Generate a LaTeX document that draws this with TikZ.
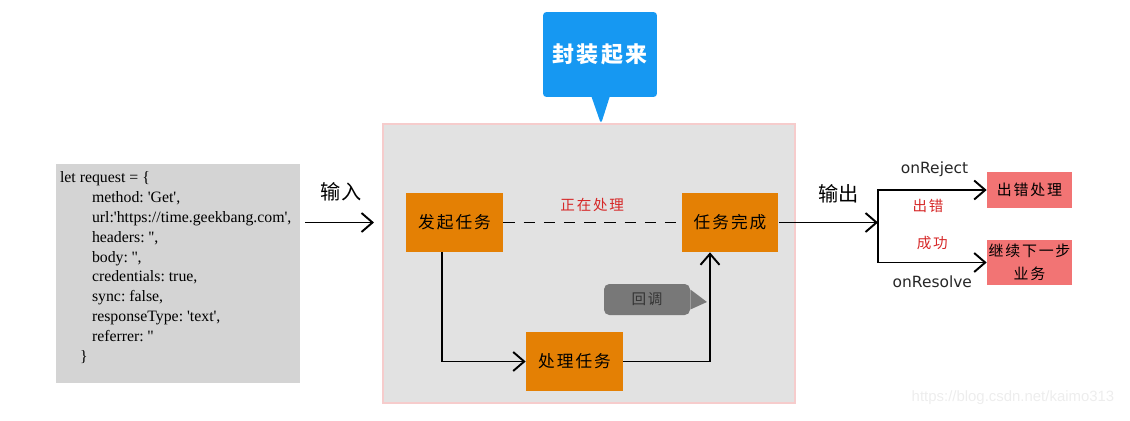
\documentclass[tikz,border=0pt]{standalone}
\usepackage{fontspec}
\newfontfamily\cjk{Noto Sans CJK SC}[LetterSpace=12]
\newfontfamily\cjkplain{Noto Sans CJK SC}
\newfontfamily\reqfont{Liberation Serif}
\newfontfamily\latinsans{DejaVu Sans}
\newfontfamily\markfont{Liberation Sans}
\usetikzlibrary{positioning,arrows.meta,shapes.callouts}
\definecolor{taskorange}{RGB}{228,128,4}
\definecolor{capblue}{RGB}{22,152,242}
\definecolor{errred}{RGB}{242,116,116}
\definecolor{hintred}{RGB}{214,40,40}
\definecolor{framegray}{RGB}{226,226,226}
\definecolor{framepink}{RGB}{246,204,204}
\definecolor{reqgray}{RGB}{212,212,212}
\definecolor{cbgray}{RGB}{120,120,120}

\begin{document}
\begin{tikzpicture}[
      x=0.02cm, y=-0.02cm,
      task/.style={fill=taskorange, minimum width=1.94cm, minimum height=1.18cm,
                   inner sep=0pt, font=\cjk\fontsize{9.5}{12}\selectfont},
      outbox/.style={fill=errred, minimum width=1.7cm, inner sep=0pt, align=center,
                     font=\cjk\fontsize{8.5}{13}\selectfont},
      note/.style={text=hintred, inner sep=1pt, font=\cjk\fontsize{8.3}{10}\selectfont},
      tag/.style={inner sep=1pt, text=black!85, font=\latinsans\fontsize{8.8}{10}\selectfont},
      io/.style={inner sep=1pt, font=\cjkplain\fontsize{11.5}{13}\selectfont},
      arr/.style={-{Straight Barb[length=2.2mm, width=3.8mm]}, line width=1.1pt}
    ]
    \useasboundingbox (0,0) rectangle (1130,420);
    \node[fill=reqgray, minimum width=4.88cm, minimum height=4.38cm] (req) at (178,273.5) {};
    \node[anchor=west, inner sep=0pt, align=left,
          font=\reqfont\fontsize{9}{11.3}\selectfont\frenchspacing]
      (reqcode) at ([shift={(4,-6)}]req.west) {let request = \{\\
        \hspace*{0.64cm}method: 'Get',\\
        \hspace*{0.64cm}url:'https://time.geekbang.com',\\
        \hspace*{0.64cm}headers: '',\\
        \hspace*{0.64cm}body: '',\\
        \hspace*{0.64cm}credentials: true,\\
        \hspace*{0.64cm}sync: false,\\
        \hspace*{0.64cm}responseType: 'text',\\
        \hspace*{0.64cm}referrer: ''\\
        \hspace*{0.4cm}\}};
    \node[draw=framepink, line width=1.2pt, fill=framegray, minimum width=8.24cm,
          minimum height=5.58cm] (frame) at (589,263.5) {};
    \coordinate (wraptip) at (601,124);
    \node[rectangle callout, fill=capblue, rounded corners=2pt, minimum width=2.28cm,
          minimum height=1.7cm, callout absolute pointer=(wraptip), callout pointer width=0.36cm,
          text=white, font=\cjk\fontsize{12.5}{14}\selectfont\bfseries] (wrap) at (600,54.5) {封装起来};
    \node[task] (start) at (454.5,222.5) {发起任务};
    \node[task] (done)  at (730,222.5)   {任务完成};
    \node[task] (work)  at (574.5,361.5) {处理任务};
    \coordinate (cbtip) at (707,302);
    \node[fill=cbgray, rounded corners=3pt, minimum width=1.72cm, minimum height=0.62cm,
          text=black!80, font=\cjk\fontsize{8.3}{10}\selectfont] (cb) at (647,299.5) {回调};
    \fill[cbgray] ([yshift=0.2cm]cb.east) -- (cbtip) -- ([yshift=-0.2cm]cb.east) -- cycle;
    \node[outbox, minimum height=0.72cm] (fail) at (1029.5,190)   {出错处理};
    \node[outbox, minimum height=0.9cm]  (next) at (1029.5,262.5) {继续下一步\\业务};
    \coordinate (split) at (878,222.5);
    % input and output
    \draw[arr, shorten <=0.1cm, shorten >=0.16cm] (req.east |- start.west)
      -- node[io, above=0.38cm] (inlabel) {输入} (frame.west |- start.west);
    \draw[arr] (done.east) -- node[pos=0.6, io, above=0.34cm] (outlabel) {输出} (split);
    % inside the wrapper
    \draw[line width=0.8pt, dash pattern=on 6.5pt off 5pt] (start.east)
      -- node[note, above=0.16cm] (busy) {正在处理} (done.west);
    \draw[arr] ([xshift=-0.25cm]start.south) |- (work.west);
    \draw[arr] (work.east) -| ([xshift=-0.4cm]done.south);
    % branches
    \draw[arr] (split) |- (fail.west)
      node[pos=0.76, tag, above=0.22cm] (rej) {onReject}
      node[pos=0.73, note, below=0.14cm] (errnote) {出错};
    \draw[arr] (split) |- (next.west)
      node[pos=0.75, note, above=0.2cm] (oknote) {成功}
      node[pos=0.75, tag, below=0.22cm] (res) {onResolve};
    \node[text=gray!14, font=\markfont\fontsize{8.5}{10}\selectfont] (mark) at (1013,398)
      {https://blog.csdn.net/kaimo313};
  \end{tikzpicture}
\end{document}
